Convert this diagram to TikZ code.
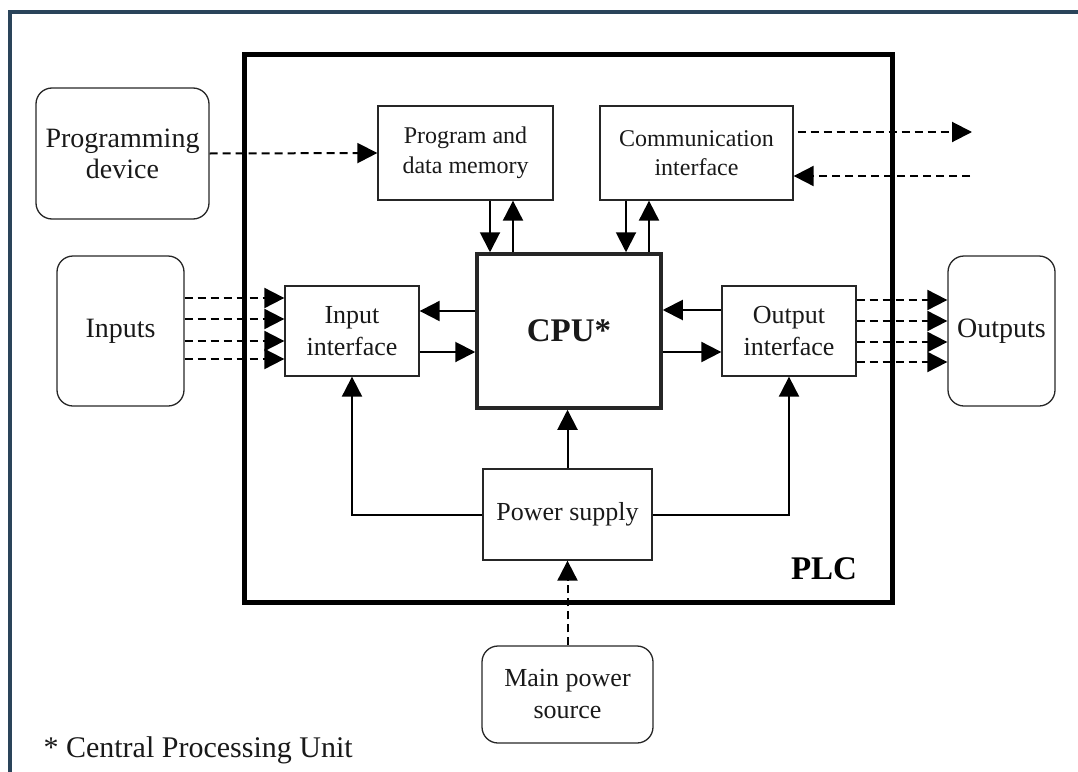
\documentclass[tikz,border=0pt]{standalone}
\usepackage{fontspec}
\setmainfont{Liberation Serif}
\usetikzlibrary{arrows.meta}
\definecolor{framecol}{RGB}{42,68,90}
\begin{document}
\begin{tikzpicture}[x=1pt,y=-1pt,
  box/.style={draw=black!85, line width=1.3pt, inner sep=0pt, align=center, text=black!90},
  rbox/.style={box, rounded corners=16pt},
  arr/.style={line width=2pt, -{Triangle[length=20pt,width=20pt]}},
  darr/.style={arr, dash pattern=on 8pt off 5pt},
  fbig/.style={font=\fontsize{28}{31}\selectfont},
  fmid/.style={font=\fontsize{26}{32}\selectfont},
  fsmall/.style={font=\fontsize{24}{30}\selectfont},
  fbold/.style={font=\fontsize{33}{36}\selectfont\bfseries}
]
\useasboundingbox (0,0) rectangle (1078,771);
% outer frame
\draw[line width=4pt, framecol] (10,775) -- (10,12) -- (1082,12);
% PLC box
\node[draw, line width=5pt, minimum width=648pt, minimum height=548pt, inner sep=0pt] (plc) at (568,328) {};
\node[fbold, anchor=base] (plclabel) at (824,579) {PLC};
% boxes
\node[rbox, fbig, minimum width=173pt, minimum height=131pt] (prog) at (122.5,153.5) {Programming\\device};
\node[rbox, fbig, minimum width=127pt, minimum height=150pt] (inputs) at (120.5,331) {Inputs};
\node[rbox, fbig, minimum width=107pt, minimum height=150pt] (outputs) at (1001.5,331) {Outputs};
\node[rbox, fmid, minimum width=171pt, minimum height=97pt] (mains) at (567.5,694.5) {Main power\\source};
\node[box, fsmall, minimum width=175pt, minimum height=94pt] (mem) at (465.5,153) {Program and\\data memory};
\node[box, fsmall, minimum width=193pt, minimum height=94pt, font=\fontsize{24}{29}\selectfont] (comm) at (696.5,153) {Communication\\interface};
\node[box, line width=3.5pt, fbold, minimum width=184pt, minimum height=154pt] (cpu) at (569,331) {CPU*};
\node[box, fmid, minimum width=134pt, minimum height=90pt] (inif) at (352,331) {Input\\interface};
\node[box, fmid, minimum width=134pt, minimum height=90pt] (outif) at (789,331) {Output\\interface};
\node[box, fmid, minimum width=169pt, minimum height=91pt] (pwr) at (567.5,514.5) {Power supply};
% footnote
\node[anchor=base west, font=\fontsize{30}{34}\selectfont, text=black!90] (note) at (40,757) {* Central Processing Unit};
% connectors
\draw[darr] (prog.east) -- (mem.west);
\draw[arr] ([xshift=24.5pt]mem.south) -- ([xshift=-79pt]cpu.north);
\draw[arr] ([xshift=-56pt]cpu.north) -- ([xshift=47.5pt]mem.south);
\draw[arr] ([xshift=-70.5pt]comm.south) -- ([xshift=57pt]cpu.north);
\draw[arr] ([xshift=80pt]cpu.north) -- ([xshift=-47.5pt]comm.south);
\coordinate (cOut) at (972,132);
\coordinate (cIn) at (970,176);
\draw[darr, shorten <=4pt] ([yshift=21pt]comm.east) -- (cOut);
\draw[darr] (cIn) -- ([yshift=-23pt]comm.east);
\draw[arr] ([yshift=20pt]cpu.west) -- ([yshift=20pt]inif.east);
\draw[arr] ([yshift=-21pt]inif.east) -- ([yshift=-21pt]cpu.west);
\draw[arr] ([yshift=21pt]outif.west) -- ([yshift=21pt]cpu.east);
\draw[arr] ([yshift=-21pt]cpu.east) -- ([yshift=-21pt]outif.west);
\foreach \s in {33,12,-10,-28}
  \draw[darr] ([yshift=\s pt]inputs.east) -- ([yshift=\s pt]inif.west);
\foreach \s in {31,10,-11,-31}
  \draw[darr] ([yshift=\s pt]outif.east) -- ([yshift=\s pt]outputs.west);
\draw[arr] (pwr.north) -- (pwr.north |- cpu.south);
\draw[arr] (pwr.west) -| (inif.south);
\draw[arr] (pwr.east) -| (outif.south);
\draw[darr] (mains.north) -- (pwr.south);
\end{tikzpicture}
\end{document}
